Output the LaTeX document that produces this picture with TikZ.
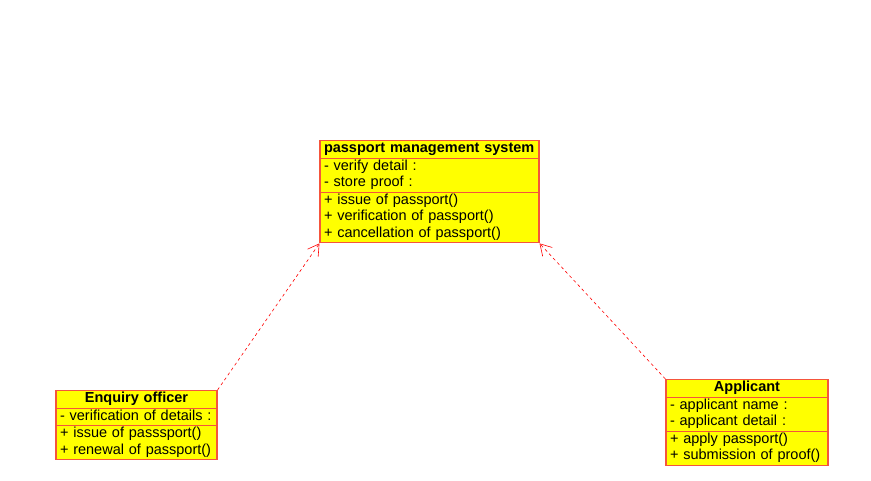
\documentclass[tikz,border=0pt]{standalone}
\usepackage{fontspec}
\setmainfont{Liberation Sans}
\usetikzlibrary{shapes,shapes.multipart,arrows,arrows.meta,calc,positioning,backgrounds}
\definecolor{umlline}{RGB}{245,85,60}
\definecolor{umlfill}{RGB}{255,255,0}

\tikzset{
  umlclass/.style={rectangle split, rectangle split parts=3, draw=umlline, fill=umlfill, line width=1.1pt,
    inner xsep=4pt, inner ysep=0pt, align=left, font=\fontsize{14.5}{16.5}\selectfont, anchor=north},
  realize/.style={draw=red, dashed, dash pattern=on 3pt off 3pt, line width=0.6pt, -{Straight Barb[length=11pt,width=13pt]}}
}

\begin{document}
\begin{tikzpicture}[x=1pt,y=1pt]
  \useasboundingbox (0,0) rectangle (871,481);

  \node[umlclass, text width=211pt] (pms) at (429.5,341)
    {\strut\textbf{passport management system}
     \nodepart{second}\strut- verify detail :\\\strut- store proof :
     \nodepart{third}\strut+ issue of passport()\\\strut+ verification of passport()\\\strut+ cancellation of passport()};
  \node[umlclass, text width=153pt] (officer) at (136.5,91)
    {\hfill\strut\textbf{Enquiry officer}\hfill\null
     \nodepart{second}\strut- verification of details :
     \nodepart{third}\strut+ issue of passsport()\\\strut+ renewal of passport()};
  \node[umlclass, text width=154pt] (applicant) at (747,102)
    {\hfill\strut\textbf{Applicant}\hfill\null
     \nodepart{second}\strut- applicant name :\\\strut- applicant detail :
     \nodepart{third}\strut+ apply passport()\\\strut+ submission of proof()};

  \draw[realize] (officer.north east) -- (pms.south west);
  \draw[realize] (applicant.north west) -- (pms.south east);

\end{tikzpicture}
\end{document}
